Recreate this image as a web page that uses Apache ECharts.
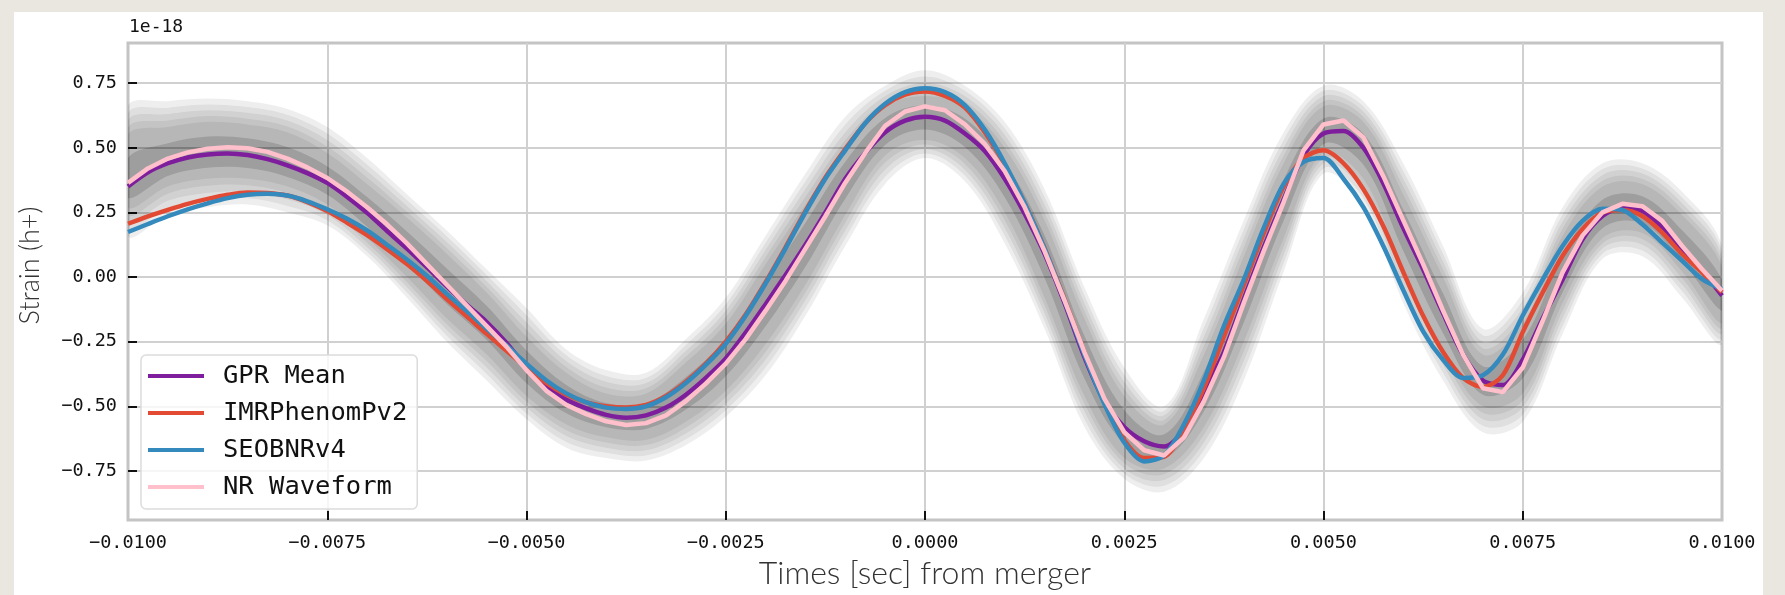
<!DOCTYPE html>
<html>
<head>
<meta charset="utf-8">
<script src="https://cdn.jsdelivr.net/npm/echarts@6/dist/echarts.min.js"></script>
<style>
html,body{margin:0;padding:0;width:1785px;height:595px;overflow:hidden;background:#eae7e1;}
#panel{position:absolute;left:14px;top:12px;width:1749px;height:583px;background:#ffffff;}
#chart{position:absolute;left:0;top:0;width:1785px;height:595px;}
</style>
</head>
<body>
<div id="panel"></div>
<div id="chart"></div>
<script>
// ---- data (time in seconds from merger, strain in units of 1e-18) ----
const times = [
 -0.01,-0.00975,-0.0095,-0.00925,-0.009,-0.00875,-0.0085,-0.00825,-0.008,-0.00775,
 -0.0075,-0.00725,-0.007,-0.00675,-0.0065,-0.00625,-0.006,-0.00575,-0.0055,-0.00525,
 -0.005,-0.00475,-0.0045,-0.00425,-0.004,-0.00375,-0.0035,-0.00325,-0.003,-0.00275,
 -0.0025,-0.00225,-0.002,-0.00175,-0.0015,-0.00125,-0.001,-0.00075,-0.0005,-0.00025,
 0,0.00025,0.0005,0.00075,0.001,0.00125,0.0015,0.00175,0.002,0.00225,
 0.0025,0.00275,0.003,0.00325,0.0035,0.00375,0.004,0.00425,0.0045,0.00475,
 0.005,0.00525,0.0055,0.00575,0.006,0.00625,0.0065,0.00675,0.007,0.00725,
 0.0075,0.00775,0.008,0.00825,0.0085,0.00875,0.009,0.00925,0.0095,0.00975,0.01
];
const gprMean = [
 0.350,0.405,0.440,0.462,0.474,0.478,0.472,0.456,0.432,0.402,
 0.364,0.310,0.248,0.178,0.110,0.038,-0.036,-0.107,-0.174,-0.255,
 -0.350,-0.425,-0.475,-0.508,-0.533,-0.544,-0.535,-0.505,-0.455,-0.390,
 -0.315,-0.215,-0.105,0.008,0.125,0.250,0.380,0.480,0.560,0.605,
 0.620,0.605,0.555,0.487,0.380,0.245,0.090,-0.100,-0.310,-0.480,
 -0.580,-0.635,-0.655,-0.590,-0.445,-0.290,-0.085,0.115,0.300,0.470,
 0.555,0.565,0.500,0.363,0.190,0.030,-0.140,-0.300,-0.400,-0.418,
 -0.320,-0.160,-0.010,0.146,0.236,0.268,0.255,0.190,0.108,0.024,-0.072
];
const imrPhenom = [
 0.206,0.235,0.260,0.283,0.302,0.318,0.327,0.325,0.315,0.290,
 0.255,0.210,0.162,0.108,0.050,-0.015,-0.085,-0.152,-0.220,-0.285,
 -0.350,-0.410,-0.455,-0.485,-0.500,-0.505,-0.495,-0.460,-0.405,-0.335,
 -0.250,-0.145,-0.020,0.115,0.255,0.385,0.495,0.595,0.665,0.705,
 0.717,0.700,0.655,0.560,0.435,0.285,0.112,-0.085,-0.290,-0.480,
 -0.630,-0.700,-0.695,-0.585,-0.430,-0.230,-0.030,0.170,0.350,0.460,
 0.490,0.440,0.340,0.197,0.020,-0.150,-0.290,-0.390,-0.425,-0.380,
 -0.213,-0.060,0.082,0.185,0.249,0.259,0.236,0.172,0.088,0.018,-0.059
];
const seobnr = [
 0.174,0.205,0.235,0.262,0.285,0.305,0.318,0.322,0.315,0.293,
 0.262,0.225,0.180,0.125,0.068,0.005,-0.065,-0.132,-0.200,-0.265,
 -0.335,-0.400,-0.450,-0.485,-0.505,-0.510,-0.500,-0.465,-0.410,-0.340,
 -0.258,-0.150,-0.025,0.110,0.250,0.380,0.490,0.595,0.670,0.715,
 0.730,0.715,0.665,0.570,0.440,0.285,0.110,-0.090,-0.300,-0.490,
 -0.640,-0.713,-0.690,-0.570,-0.400,-0.190,-0.010,0.190,0.360,0.445,
 0.460,0.380,0.270,0.120,-0.050,-0.210,-0.320,-0.390,-0.380,-0.300,
 -0.149,-0.010,0.120,0.217,0.264,0.259,0.204,0.133,0.063,-0.008,-0.046
];
const nrWaveform = [
 0.364,0.420,0.458,0.482,0.496,0.502,0.498,0.484,0.458,0.424,
 0.383,0.330,0.270,0.204,0.130,0.050,-0.030,-0.110,-0.190,-0.270,
 -0.360,-0.440,-0.495,-0.530,-0.558,-0.572,-0.565,-0.535,-0.480,-0.412,
 -0.335,-0.240,-0.130,-0.015,0.110,0.235,0.365,0.480,0.585,0.640,
 0.660,0.645,0.590,0.515,0.410,0.270,0.100,-0.090,-0.290,-0.470,
 -0.600,-0.670,-0.690,-0.620,-0.480,-0.310,-0.100,0.100,0.290,0.490,
 0.590,0.605,0.540,0.390,0.220,0.050,-0.130,-0.300,-0.430,-0.445,
 -0.350,-0.170,0.018,0.160,0.250,0.283,0.274,0.217,0.120,0.030,-0.053
];
// GPR posterior sample envelopes (every 0.0005 s)
const bandTimes = [
 -0.01,-0.0095,-0.009,-0.0085,-0.008,-0.0075,-0.007,-0.0065,-0.006,-0.0055,
 -0.005,-0.0045,-0.004,-0.0035,-0.003,-0.0025,-0.002,-0.0015,-0.001,-0.0005,
 0,0.0005,0.001,0.0015,0.002,0.0025,0.003,0.0035,0.004,0.0045,
 0.005,0.0055,0.006,0.0065,0.007,0.0075,0.008,0.0085,0.009,0.0095,0.01
];
const coreLow = [
 0.27,0.35,0.38,0.38,0.35,0.28,0.15,0.00,-0.16,-0.30,
 -0.46,-0.57,-0.62,-0.63,-0.56,-0.44,-0.26,-0.03,0.24,0.47,
 0.53,0.46,0.25,-0.08,-0.46,-0.70,-0.74,-0.58,-0.25,0.15,
 0.48,0.38,0.03,-0.28,-0.50,-0.45,-0.10,0.15,0.17,0.02,-0.18
];
const coreHigh = [
 0.55,0.58,0.60,0.59,0.56,0.48,0.36,0.23,0.09,-0.06,
 -0.23,-0.37,-0.45,-0.45,-0.33,-0.18,0.05,0.28,0.50,0.66,
 0.70,0.66,0.50,0.22,-0.16,-0.46,-0.57,-0.30,0.08,0.44,
 0.66,0.60,0.32,0.00,-0.30,-0.18,0.16,0.35,0.36,0.24,0.04
];
const outerLow = [
 0.16,0.24,0.27,0.28,0.25,0.20,0.08,-0.08,-0.25,-0.40,
 -0.55,-0.66,-0.70,-0.71,-0.65,-0.54,-0.38,-0.15,0.12,0.36,
 0.46,0.37,0.13,-0.20,-0.58,-0.78,-0.83,-0.70,-0.40,0.02,
 0.40,0.28,-0.10,-0.40,-0.60,-0.56,-0.22,0.07,0.08,-0.08,-0.26
];
const outerHigh = [
 0.66,0.68,0.69,0.68,0.65,0.58,0.46,0.32,0.18,0.03,
 -0.12,-0.28,-0.36,-0.37,-0.24,-0.08,0.16,0.40,0.62,0.74,
 0.80,0.74,0.60,0.34,-0.04,-0.35,-0.50,-0.16,0.22,0.56,
 0.74,0.68,0.44,0.12,-0.20,-0.06,0.27,0.44,0.44,0.33,0.12
];
const seriesNames = ['GPR Mean','IMRPhenomPv2','SEOBNRv4','NR Waveform'];
const yTicks = [-0.75,-0.5,-0.25,0,0.25,0.5,0.75];
const xTickMarks = [-0.0075,-0.005,-0.0025,0,0.0025,0.005,0.0075];
const yMin = -0.94, yMax = 0.905;
const xMin = -0.01, xMax = 0.01, xStep = 0.0025;

// ---- chart ----
const MONO = "'DejaVu Sans Mono', monospace";
const minus = s => s.replace('-', '\u2212');
const pairs = arr => times.map((t, i) => [t, arr[i]]);
// blend two envelopes (f = 0 -> a, f = 1 -> b) to shade the sample cloud softly
const mix = (a, b, f) => a.map((v, i) => v + (b[i] - v) * f);
const meanOnBand = bandTimes.map((t, k) => gprMean[2 * k]);

function band(lo, hi, fill) {
  return {
    type: 'custom', silent: true, clip: true, z: 1,
    data: [[0, 0]],
    renderItem: (params, api) => {
      const pts = [];
      for (let k = 0; k < bandTimes.length; k++) pts.push(api.coord([bandTimes[k], hi[k]]));
      for (let k = bandTimes.length - 1; k >= 0; k--) pts.push(api.coord([bandTimes[k], lo[k]]));
      return { type: 'polygon', shape: { points: pts, smooth: 0.35 }, style: { fill: fill } };
    }
  };
}
function line(name, arr, color, smooth) {
  return {
    name: name, type: 'line', data: pairs(arr), color: color,
    showSymbol: false, symbol: 'none', smooth: smooth, z: 3, silent: true,
    lineStyle: { color: color, width: 4.5 }
  };
}
const bands = [];
[0, 0.25, 0.5, 0.75, 1].forEach(f => {
  bands.push(band(mix(outerLow, coreLow, f), mix(outerHigh, coreHigh, f), 'rgba(0,0,0,0.065)'));
});
bands.push(band(mix(coreLow, meanOnBand, 0.45), mix(coreHigh, meanOnBand, 0.45), 'rgba(0,0,0,0.14)'));

const chart = echarts.init(document.getElementById('chart'), null, { renderer: 'canvas' });
chart.setOption({
  animation: false,
  backgroundColor: 'transparent',
  title: {
    text: '1e-18', left: 129, top: 18, padding: 0,
    textStyle: { fontFamily: MONO, fontSize: 18, fontWeight: 'normal', color: '#111' }
  },
  legend: {
    orient: 'vertical', left: 141, top: 355,
    padding: [7, 10, 8, 7],
    itemWidth: 56, itemHeight: 4, itemGap: 9, icon: 'rect',
    backgroundColor: 'rgba(255,255,255,0.8)', borderColor: '#dcdcdc', borderWidth: 1.5, borderRadius: 5,
    textStyle: { fontFamily: MONO, fontSize: 25.5, color: '#111', lineHeight: 28, padding: [0, 0, 0, 14] },
    data: seriesNames
  },
  grid: {
    left: 128, top: 43, right: 63, bottom: 72,
    show: true, borderColor: '#c4c4c4', borderWidth: 3, backgroundColor: 'transparent'
  },
  xAxis: {
    type: 'value', min: xMin, max: xMax, interval: xStep,
    name: 'Times [sec] from merger', nameLocation: 'middle', nameGap: 37,
    nameTextStyle: { fontFamily: 'Lato', fontWeight: 300, fontSize: 32, color: '#333' },
    axisLine: { show: false, onZero: false },
    axisTick: { show: true, inside: true, length: 9, customValues: xTickMarks, lineStyle: { color: '#111', width: 2 } },
    axisLabel: { margin: 14, fontFamily: MONO, fontSize: 18.5, color: '#111', formatter: v => minus(v.toFixed(4)) },
    splitLine: { show: true, lineStyle: { color: '#d0d0d0', width: 2 } }
  },
  yAxis: {
    type: 'value', min: yMin, max: yMax,
    name: 'Strain (h+)', nameLocation: 'middle', nameGap: 84,
    nameTextStyle: { fontFamily: 'Lato', fontWeight: 300, fontSize: 27, color: '#333', padding: [0, 0, 0, 32] },
    axisLine: { show: false, onZero: false },
    axisTick: { show: true, inside: true, length: 9, customValues: yTicks, lineStyle: { color: '#111', width: 2 } },
    axisLabel: { margin: 11, fontFamily: MONO, fontSize: 18.5, color: '#111', customValues: yTicks, formatter: v => minus(v.toFixed(2)) },
    splitLine: { show: true, lineStyle: { color: '#d0d0d0', width: 2 } }
  },
  series: bands.concat([
    line(seriesNames[0], gprMean, '#7e1e9c', 0.3),
    line(seriesNames[1], imrPhenom, '#e24a33', 0.3),
    line(seriesNames[2], seobnr, '#348abd', 0.3),
    line(seriesNames[3], nrWaveform, '#ffc0cb', false)
  ])
});
</script>
</body>
</html>
